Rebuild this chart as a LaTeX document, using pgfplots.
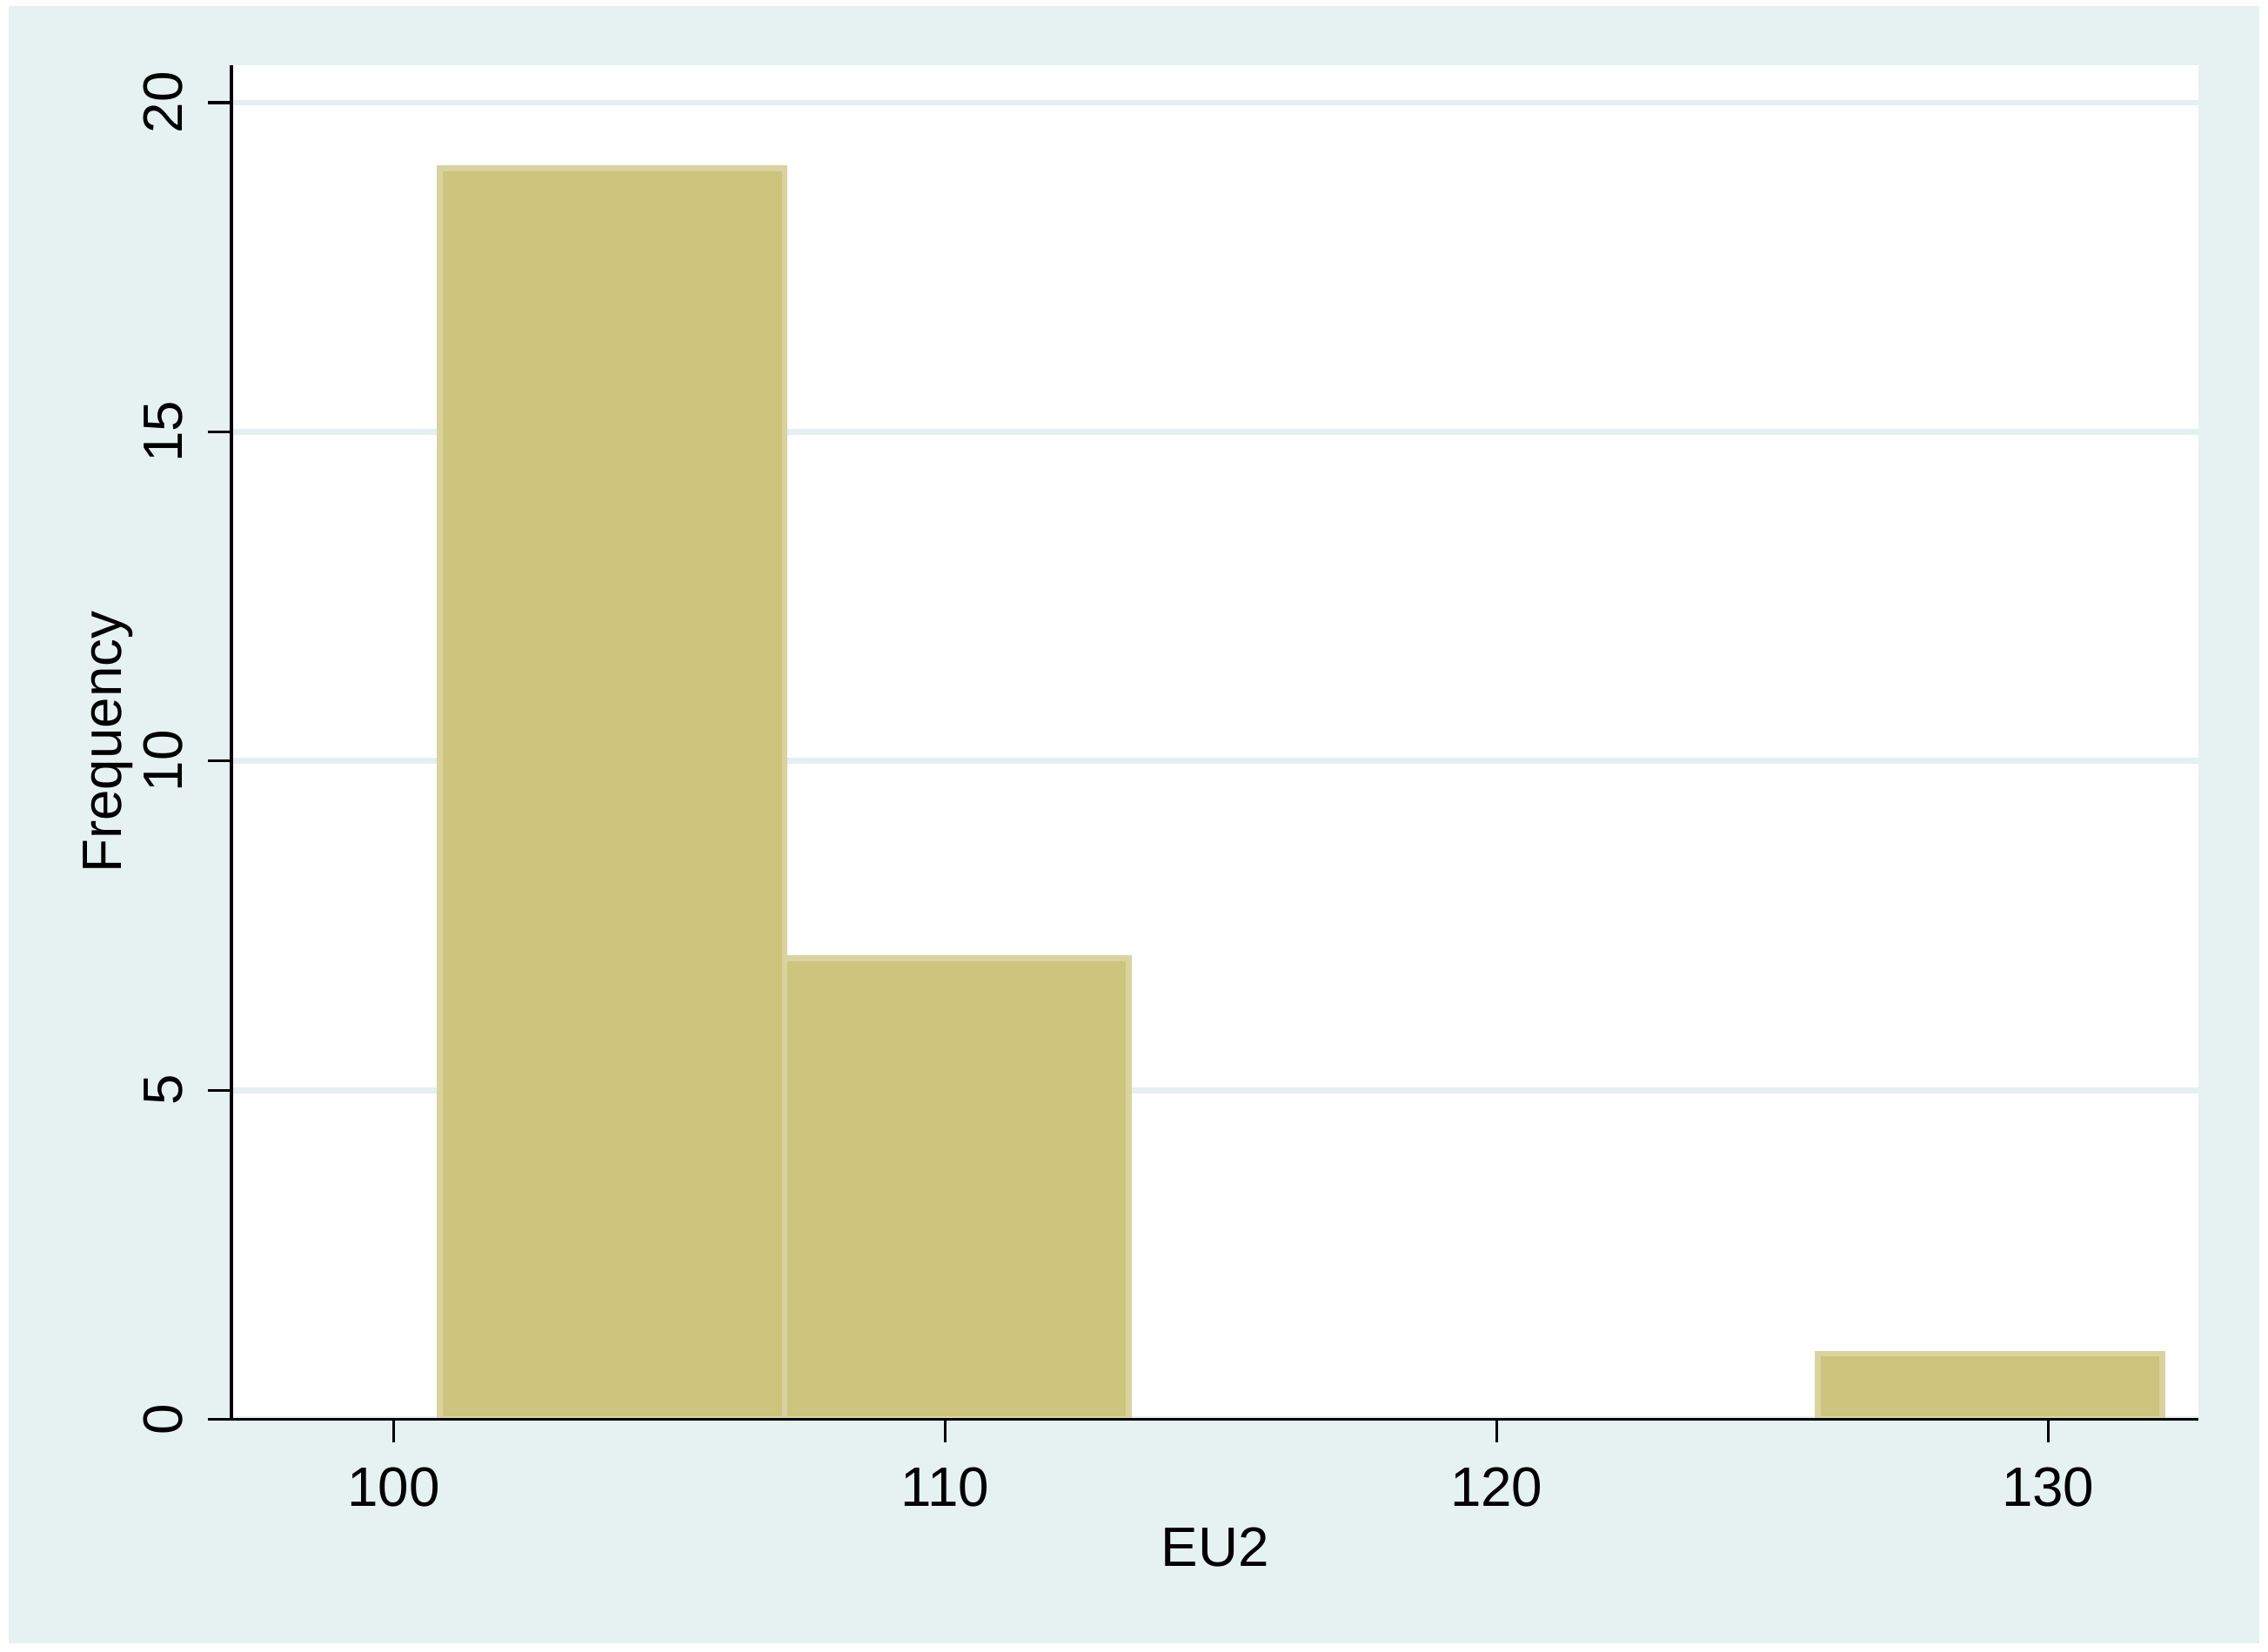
\documentclass[border=0pt]{standalone}
\usepackage{fontspec}
\setmainfont{Liberation Sans}
\usepackage{pgfplots}
\pgfplotsset{compat=1.18}
\definecolor{bgc}{RGB}{230,241,241}
\definecolor{gridc}{RGB}{228,239,241}
\definecolor{barfill}{RGB}{205,196,125}
\definecolor{barline}{RGB}{217,211,159}
\pgfplotsset{
  layers/gridbelow/.define layer set={
    axis background,axis grid,main,axis ticks,axis lines,
    axis tick labels,axis descriptions,axis foreground
  }{/pgfplots/layers/standard},
}
\begin{document}
\begin{tikzpicture}
\path (0,0) rectangle (470.4pt,342.6pt);
\begin{axis}[
  name=ax,
  set layers=gridbelow,
  at={(48pt,48.2pt)}, anchor=south west,
  scale only axis, width=408pt, height=280.9pt,
  xmin=97.06, xmax=132.73, ymin=0, ymax=20.57,
  axis x line*=bottom, axis y line*=left,
  axis line style={line width=0.6pt, black, -},
  xtick={100,110,120,130}, ytick={0,5,10,15,20},
  tick align=outside, major tick length=4.8pt,
  tick style={line width=0.6pt, black},
  ymajorgrids, grid style={line width=1.2pt, gridc},
  /pgf/number format/assume math mode=true,
  ticklabel style={font=\fontsize{11.5}{13}\selectfont},
  label style={font=\fontsize{11.5}{13}\selectfont},
  xticklabel style={inner sep=0pt, anchor=north},
  xticklabel shift=5pt,
  yticklabel style={rotate=90, inner sep=0pt, anchor=south},
  yticklabel shift=5.1pt,
  xlabel={EU2},
  xlabel style={at={(axis description cs:0.5,-0.0791)}, anchor=north, inner sep=0pt},
  ylabel={Frequency},
  ylabel style={at={(axis description cs:-0.0559,0.5)}, anchor=base, inner sep=0pt},
]
\addplot[ybar interval, fill=barfill, draw=barline, line width=1.2pt]
  coordinates {(100.84,19) (107.09,7) (113.33,7)};
\addplot[ybar interval, fill=barfill, draw=barline, line width=1.2pt]
  coordinates {(125.83,1) (132.07,1)};
\end{axis}
\begin{pgfonlayer}{axis background}
\fill[white] (0,0) rectangle (470.4pt,342.6pt);
\fill[bgc] (1.8pt,1.8pt) rectangle (468.6pt,341.3pt);
\fill[white] (ax.south west) rectangle (ax.north east);
\end{pgfonlayer}
\end{tikzpicture}
\end{document}
